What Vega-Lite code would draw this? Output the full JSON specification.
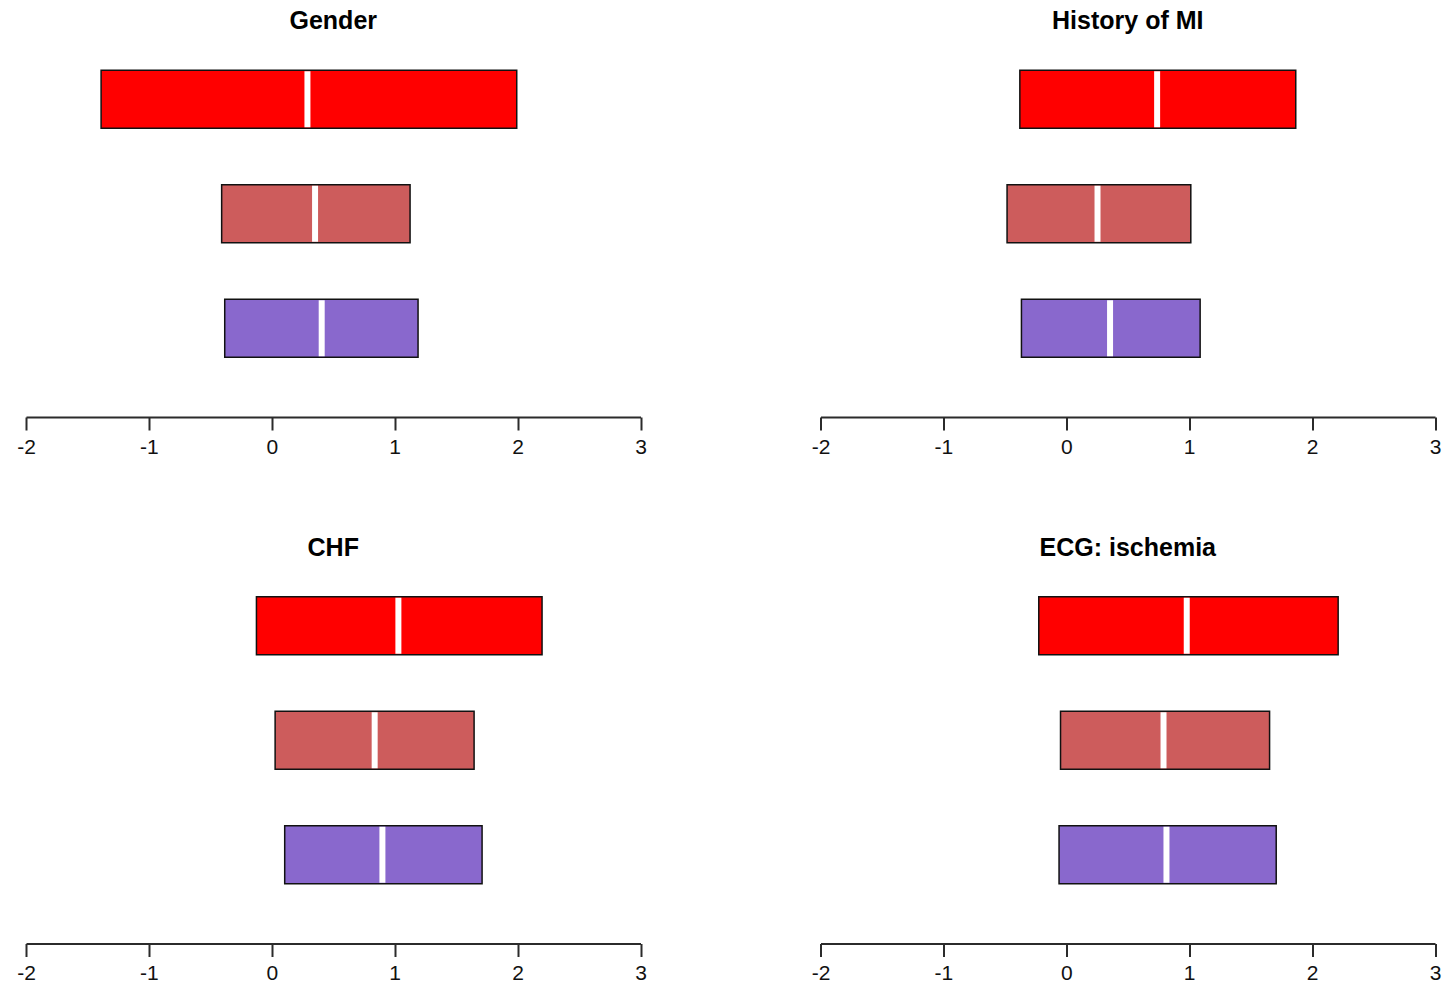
{
  "$schema": "https://vega.github.io/schema/vega-lite/v6.json",
  "background": "white",
  "padding": {"left": 16, "top": 9, "right": 5, "bottom": 5},
  "data": {
    "values": [
      {"panel": "Gender", "arm": "a", "lo": -1.389, "med": 0.29, "hi": 1.993},
      {"panel": "Gender", "arm": "b", "lo": -0.408, "med": 0.352, "hi": 1.125},
      {"panel": "Gender", "arm": "c", "lo": -0.383, "med": 0.406, "hi": 1.19},
      {"panel": "History of MI", "arm": "a", "lo": -0.378, "med": 0.739, "hi": 1.867},
      {"panel": "History of MI", "arm": "b", "lo": -0.482, "med": 0.254, "hi": 1.013},
      {"panel": "History of MI", "arm": "c", "lo": -0.365, "med": 0.356, "hi": 1.089},
      {"panel": "CHF", "arm": "a", "lo": -0.125, "med": 1.03, "hi": 2.199},
      {"panel": "CHF", "arm": "b", "lo": 0.027, "med": 0.837, "hi": 1.646},
      {"panel": "CHF", "arm": "c", "lo": 0.105, "med": 0.9, "hi": 1.711},
      {"panel": "ECG: ischemia", "arm": "a", "lo": -0.224, "med": 0.98, "hi": 2.212},
      {"panel": "ECG: ischemia", "arm": "b", "lo": -0.047, "med": 0.791, "hi": 1.654},
      {"panel": "ECG: ischemia", "arm": "c", "lo": -0.059, "med": 0.815, "hi": 1.708}
    ]
  },
  "facet": {
    "field": "panel",
    "type": "nominal",
    "sort": ["Gender", "History of MI", "CHF", "ECG: ischemia"],
    "header": {
      "title": null,
      "labelFont": "Liberation Sans",
      "labelFontSize": 25,
      "labelFontWeight": "bold",
      "labelColor": "black",
      "labelBaseline": "alphabetic",
      "labelPadding": -12
    }
  },
  "columns": 2,
  "spacing": {"row": 182.5, "column": 179.5},
  "bounds": "flush",
  "resolve": {"axis": {"x": "independent"}},
  "spec": {
    "width": 614.5,
    "height": 343.5,
    "encoding": {
      "y": {
        "field": "arm",
        "type": "nominal",
        "axis": null,
        "scale": {"paddingInner": 0.494, "paddingOuter": 0.247}
      }
    },
    "layer": [
      {
        "mark": {"type": "bar", "stroke": "#111111", "strokeWidth": 1.5},
        "encoding": {
          "x": {
            "field": "lo",
            "type": "quantitative",
            "scale": {"domain": [-2, 3], "nice": false, "zero": false},
            "axis": {
              "values": [-2, -1, 0, 1, 2, 3],
              "labelExpr": "'' + datum.value",
              "title": null,
              "grid": false,
              "offset": 31.5,
              "domainColor": "#2b2b2b",
              "domainWidth": 2,
              "tickColor": "#2b2b2b",
              "tickWidth": 2,
              "tickSize": 13,
              "labelFont": "Liberation Sans",
              "labelFontSize": 21,
              "labelColor": "#111111",
              "labelPadding": 6,
              "labelFlush": false,
              "labelOverlap": false
            }
          },
          "x2": {"field": "hi"},
          "color": {
            "field": "arm",
            "type": "nominal",
            "scale": {"domain": ["a", "b", "c"], "range": ["#FF0000", "#CD5C5C", "#8968CD"]},
            "legend": null
          },
          "opacity": {"value": 1}
        }
      },
      {
        "mark": {"type": "tick", "color": "white", "thickness": 6, "size": 56, "opacity": 1},
        "encoding": {
          "x": {"field": "med", "type": "quantitative"}
        }
      }
    ]
  },
  "config": {
    "view": {"stroke": null},
    "bar": {"opacity": 1}
  }
}
